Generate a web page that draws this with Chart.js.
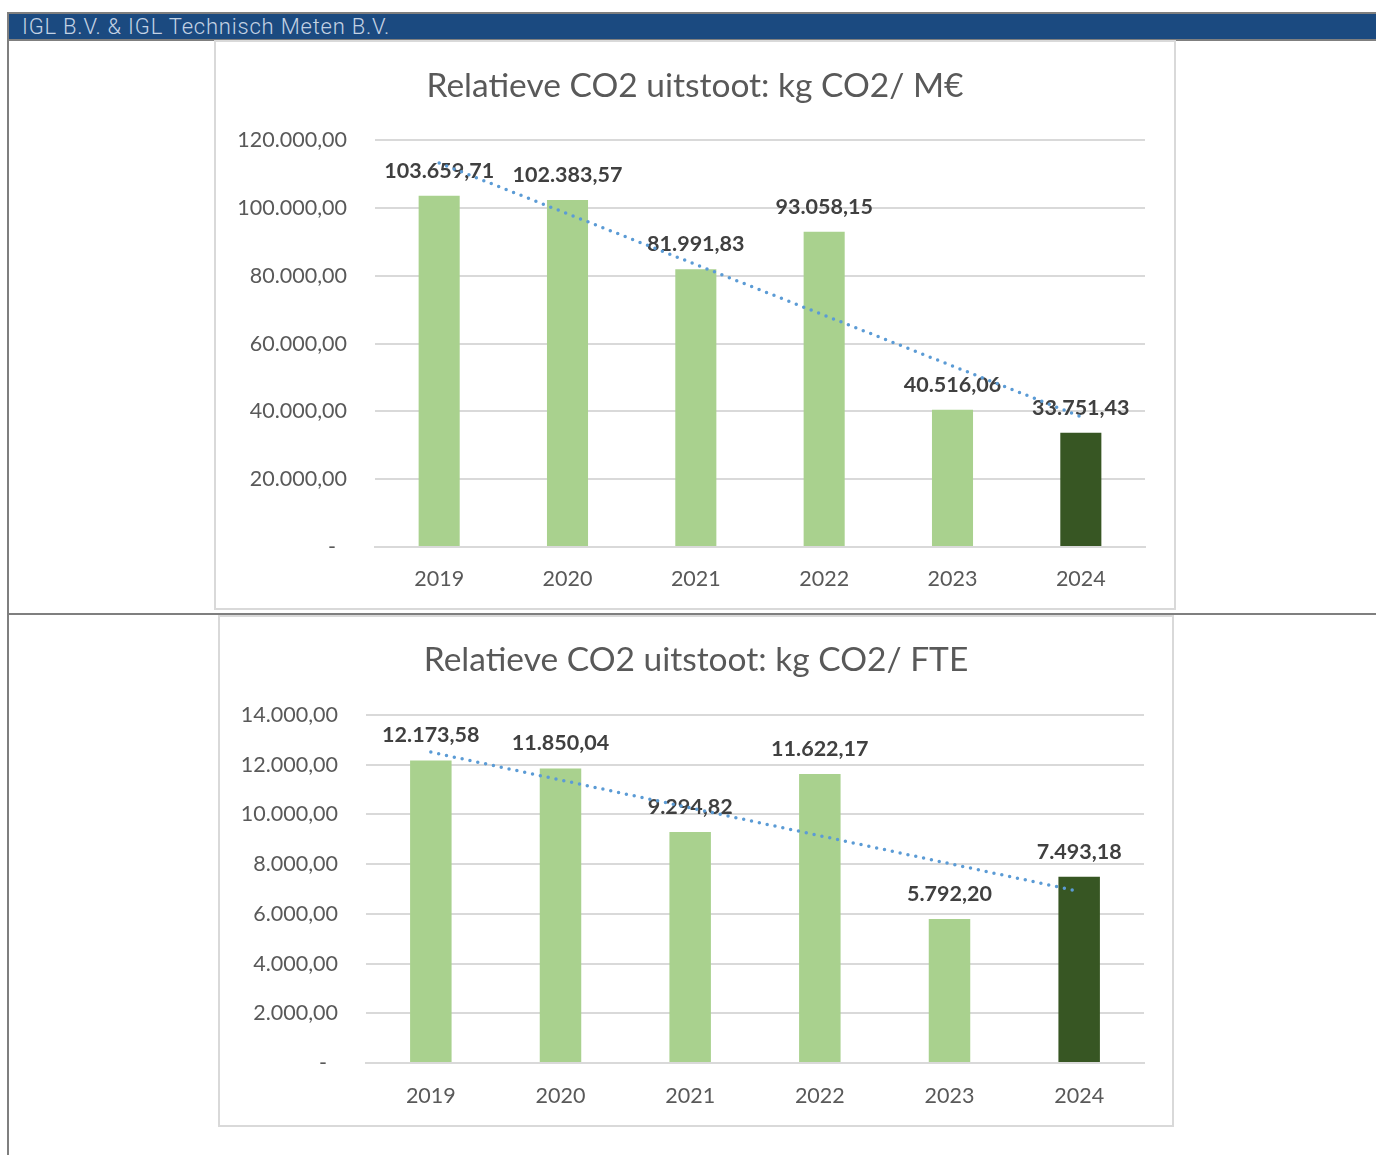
<!DOCTYPE html>
<html>
<head>
<meta charset="utf-8">
<script src="https://cdn.jsdelivr.net/npm/chart.js@4.4.1/dist/chart.umd.min.js"></script>
<style>
  body { margin: 0; background: #fff; width: 1376px; height: 1155px; position: relative; overflow: hidden; }
  .header { position: absolute; left: 7px; top: 12px; width: 1369px; height: 25px; background: #1b4a80;
            border-top: 2px solid #7f7f7f; border-bottom: 2px solid #7f7f7f; border-left: 2px solid #7f7f7f;
            color: #c3d2e4; font-family: Roboto, sans-serif; font-weight: 300; font-size: 22px; letter-spacing: 0.8px;
            line-height: 25px; padding-left: 13px; box-sizing: content-box; white-space: nowrap; }
  .vline { position: absolute; left: 7px; top: 12px; width: 2px; height: 1143px; background: #7f7f7f; }
  .hline { position: absolute; left: 7px; top: 613px; width: 1369px; height: 2px; background: #7f7f7f; }
  .box { position: absolute; background: #fff; border: 2px solid #d9d9d9; box-sizing: border-box; }
  .box canvas { position: absolute; left: 0; top: 0; }
</style>
</head>
<body>
<div class="vline"></div>
<div class="hline"></div>
<div class="header">IGL B.V. &amp; IGL Technisch Meten B.V.</div>
<div class="box" id="box1" style="left:214px; top:40px; width:962px; height:570px;"><canvas id="chart1"></canvas></div>
<div class="box" id="box2" style="left:218px; top:615px; width:956px; height:512px;"><canvas id="chart2"></canvas></div>
<script>
// data
const years = ['2019', '2020', '2021', '2022', '2023', '2024'];
const perMillion = [103659.71, 102383.57, 81991.83, 93058.15, 40516.06, 33751.43];
const perFte = [12173.58, 11850.04, 9294.82, 11622.17, 5792.20, 7493.18];
const title1 = 'Relatieve CO2 uitstoot: kg CO2/ M€';
const title2 = 'Relatieve CO2 uitstoot: kg CO2/ FTE';

const lightGreen = '#a9d18e';
const darkGreen = '#375623';
const grid = '#d9d9d9';
const font = 'Lato, "Noto Sans", sans-serif';

function fmt(v) {
    let parts = v.toFixed(2).split('.');
    let ip = parts[0].replace(/\B(?=(\d{3})+(?!\d))/g, '.');
    return ip + ',' + parts[1];
}

// excel style linear trendline (least squares over category index)
function trend(vals) {
    let n = vals.length, mx = (n + 1) / 2, my = vals.reduce((a, b) => a + b, 0) / n;
    let sxy = 0, sxx = 0;
    vals.forEach((v, i) => { sxy += (i + 1 - mx) * (v - my); sxx += (i + 1 - mx) * (i + 1 - mx); });
    let k = sxy / sxx;
    return vals.map((v, i) => my + k * (i + 1 - mx));
}

const barLabels = {
    id: 'barLabels',
    afterDatasetDraw(chart, args) {
        if (args.index !== 0) return;
        const ctx = chart.ctx;
        ctx.save();
        ctx.font = 'bold 21.5px ' + font;
        ctx.fillStyle = '#404040';
        ctx.textAlign = 'center';
        ctx.textBaseline = 'middle';
        args.meta.data.forEach((el, i) => {
            ctx.fillText(fmt(chart.data.datasets[0].data[i]), el.x, el.y - 25);
        });
        ctx.restore();
    }
};

// title centred on the whole box (the builtin one ignores the right padding)
const boxTitle = {
    id: 'boxTitle',
    afterDraw(chart, args, opts) {
        const ctx = chart.ctx;
        ctx.save();
        ctx.font = '33.5px ' + font;
        ctx.fillStyle = '#595959';
        ctx.textAlign = 'center';
        ctx.textBaseline = 'middle';
        ctx.fillText(opts.text, chart.width / 2, opts.y);
        ctx.restore();
    }
};

function makeChart(id, w, h, vals, title, max, step, cfg) {
    const cv = document.getElementById(id);
    cv.width = w; cv.height = h;
    cv.style.width = w + 'px'; cv.style.height = h + 'px';
    return new Chart(cv, {
        data: {
            labels: years,
            datasets: [{
                type: 'bar',
                data: vals,
                backgroundColor: vals.map((v, i) => i === vals.length - 1 ? darkGreen : lightGreen),
                barPercentage: 0.64,
                categoryPercentage: 0.5,
                order: 2
            }, {
                type: 'line',
                data: trend(vals),
                borderColor: '#5b9bd5',
                borderWidth: 3.5,
                borderDash: [0, 8],
                borderCapStyle: 'round',
                pointRadius: 0,
                fill: false,
                order: 1
            }]
        },
        options: {
            responsive: false,
            animation: false,
            events: [],
            layout: { padding: { left: 0, right: cfg.right, top: cfg.top, bottom: 0 } },
            plugins: {
                legend: { display: false },
                tooltip: { enabled: false },
                title: { display: false },
                boxTitle: { text: title, y: cfg.titleY }
            },
            scales: {
                x: {
                    grid: { display: false },
                    border: { display: true, color: grid, width: 2 },
                    ticks: { color: '#595959', font: { family: font, size: 21.5 }, padding: cfg.xPad },
                    afterFit(s) { s.height = cfg.xHeight; }
                },
                y: {
                    min: 0, max: max,
                    grid: { color: grid, lineWidth: 2, drawTicks: false },
                    border: { display: false },
                    ticks: {
                        stepSize: step, color: '#595959', padding: 28,
                        font: { family: font, size: 21.5 },
                        callback: v => v === 0 ? '-  ' : fmt(v)
                    },
                    afterFit(s) { s.width = cfg.yWidth; }
                }
            }
        },
        plugins: [barLabels, boxTitle]
    });
}

makeChart('chart1', 958, 566, perMillion, title1, 120000, 20000,
    { right: 29, top: 98.4, titleY: 44, xHeight: 61, xPad: 11, yWidth: 159 });
makeChart('chart2', 952, 508, perFte, title2, 14000, 2000,
    { right: 28, top: 98, titleY: 43, xHeight: 62, xPad: 12, yWidth: 146 });
</script>
</body>
</html>
